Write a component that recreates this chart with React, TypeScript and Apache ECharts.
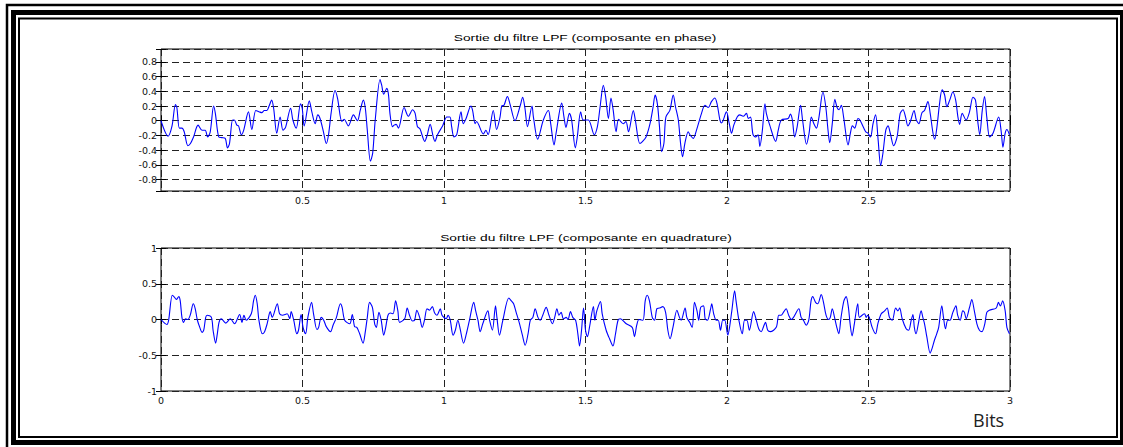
import React, { useEffect, useRef } from 'react';
import * as echarts from 'echarts';

// Sortie du filtre LPF, composante en phase: [bits, amplitude]
const inPhase: [number, number][] = [
  [0, 0], [0.025, -0.21], [0.039, -0.07], [0.051, 0.22], [0.056, 0.18], [0.065, -0.1], [0.074, -0.1], [0.082, -0.15],
  [0.095, -0.34], [0.104, -0.31], [0.115, -0.22], [0.131, -0.06], [0.145, -0.13], [0.156, -0.13], [0.165, -0.22],
  [0.174, -0.15], [0.186, 0.2], [0.192, 0.1], [0.204, -0.22], [0.215, -0.23], [0.227, -0.24], [0.235, -0.37],
  [0.242, -0.31], [0.253, 0.01], [0.259, 0.01], [0.268, -0.06], [0.274, -0.07], [0.284, -0.19], [0.292, -0.13],
  [0.309, 0.12], [0.321, -0.12], [0.335, 0.14], [0.348, 0.12], [0.356, 0.11], [0.365, 0.14], [0.374, 0.14],
  [0.382, 0.2], [0.391, 0.28], [0.398, 0.17], [0.409, -0.17], [0.421, 0.05], [0.431, -0.13], [0.44, -0.09],
  [0.458, 0.17], [0.466, 0.01], [0.478, -0.1], [0.493, 0.23], [0.499, 0.17], [0.506, -0.07], [0.524, 0.27],
  [0.533, 0.12], [0.545, -0.04], [0.554, 0.08], [0.562, 0.03], [0.574, -0.15], [0.584, -0.31], [0.592, -0.19],
  [0.601, 0.1], [0.615, 0.41], [0.624, 0.3], [0.639, -0.01], [0.647, 0.02], [0.662, -0.07], [0.68, 0.08],
  [0.694, 0], [0.704, 0.14], [0.715, 0.28], [0.722, 0.17], [0.729, -0.13], [0.74, -0.55], [0.748, -0.44],
  [0.757, 0.01], [0.774, 0.56], [0.78, 0.48], [0.787, 0.36], [0.798, 0.44], [0.804, 0.35], [0.809, 0.1],
  [0.818, -0.08], [0.824, -0.06], [0.831, -0.05], [0.839, -0.1], [0.859, 0.18], [0.874, 0.06], [0.889, 0.15],
  [0.898, 0.1], [0.906, -0.08], [0.915, -0.11], [0.932, -0.28], [0.941, -0.19], [0.951, -0.05], [0.962, -0.22],
  [0.968, -0.28], [0.977, -0.19], [0.995, -0.07], [1.01, 0.05], [1.021, 0.05], [1.027, -0.08], [1.035, -0.22],
  [1.045, -0.19], [1.06, 0.12], [1.068, -0.04], [1.078, 0.03], [1.095, 0.2], [1.101, 0.14], [1.11, -0.04],
  [1.115, -0.01], [1.139, -0.18], [1.148, -0.13], [1.156, -0.19], [1.174, 0.14], [1.186, -0.12], [1.198, 0.05],
  [1.204, 0.2], [1.212, 0.21], [1.224, 0.33], [1.233, 0.23], [1.251, 0], [1.269, 0.2], [1.278, 0.32], [1.286, 0.17],
  [1.295, -0.08], [1.311, 0.2], [1.316, 0.05], [1.331, -0.25], [1.351, 0.01], [1.369, 0.14], [1.377, -0.04],
  [1.389, -0.33], [1.396, -0.17], [1.416, 0.24], [1.424, 0.05], [1.431, -0.09], [1.443, 0.1], [1.451, 0.01],
  [1.464, -0.37], [1.471, -0.22], [1.483, 0.12], [1.492, 0.01], [1.51, 0.01], [1.531, -0.19], [1.542, -0.08],
  [1.551, 0.17], [1.563, 0.48], [1.571, 0.33], [1.581, 0.03], [1.59, 0.31], [1.598, 0.14], [1.608, -0.15],
  [1.617, 0.02], [1.633, -0.04], [1.643, -0.01], [1.652, -0.15], [1.669, 0.14], [1.676, 0.01], [1.692, -0.31],
  [1.702, -0.28], [1.714, -0.22], [1.728, -0.04], [1.739, 0.19], [1.746, 0.35], [1.754, 0.23], [1.761, -0.06],
  [1.769, -0.42], [1.777, -0.31], [1.784, 0.05], [1.798, 0.14], [1.81, 0.35], [1.818, 0.19], [1.828, 0.01],
  [1.836, -0.31], [1.843, -0.49], [1.851, -0.31], [1.863, -0.15], [1.869, -0.19], [1.881, -0.24], [1.892, -0.13],
  [1.91, 0.1], [1.922, 0.21], [1.934, 0.18], [1.945, 0.26], [1.957, 0.31], [1.965, 0.23], [1.975, 0.01],
  [1.981, -0.03], [1.998, 0.12], [2.008, -0.04], [2.016, -0.17], [2.024, -0.06], [2.036, 0.05], [2.045, 0.08],
  [2.057, 0.06], [2.069, 0.1], [2.075, 0.03], [2.083, 0.05], [2.092, -0.19], [2.102, -0.22], [2.11, -0.19],
  [2.116, -0.35], [2.125, -0.13], [2.134, 0.23], [2.139, 0.1], [2.151, -0.06], [2.172, -0.28], [2.181, -0.13],
  [2.192, 0.01], [2.216, 0.03], [2.224, 0.09], [2.231, 0.01], [2.239, -0.22], [2.248, -0.08], [2.26, 0.21],
  [2.267, 0.01], [2.281, -0.32], [2.29, -0.17], [2.298, 0.05], [2.307, -0.04], [2.316, -0.1], [2.325, 0.05],
  [2.339, 0.39], [2.349, 0.19], [2.357, -0.13], [2.363, -0.3], [2.372, -0.04], [2.381, 0.29], [2.389, 0.18],
  [2.396, 0.15], [2.404, 0.21], [2.412, 0.05], [2.428, -0.33], [2.436, -0.17], [2.443, -0.07], [2.451, -0.1],
  [2.463, 0.03], [2.471, 0], [2.49, -0.15], [2.498, -0.17], [2.507, -0.22], [2.516, -0.04], [2.525, 0.08],
  [2.534, -0.26], [2.543, -0.61], [2.551, -0.44], [2.561, -0.13], [2.569, -0.07], [2.577, -0.17], [2.589, -0.34],
  [2.601, -0.22], [2.612, 0.1], [2.622, 0.15], [2.631, 0.05], [2.639, -0.07], [2.648, -0.01], [2.661, 0.14],
  [2.669, 0.01], [2.678, -0.04], [2.689, 0.11], [2.698, 0.14], [2.71, 0.26], [2.718, 0.1], [2.728, -0.17],
  [2.734, -0.25], [2.742, -0.08], [2.751, 0.23], [2.76, 0.42], [2.769, 0.35], [2.777, 0.19], [2.787, 0.28],
  [2.798, 0.39], [2.808, 0.28], [2.816, 0.05], [2.822, -0.05], [2.831, 0.1], [2.845, 0.01], [2.857, 0.12],
  [2.869, 0.32], [2.878, 0.28], [2.887, -0.04], [2.893, -0.19], [2.902, 0.14], [2.91, 0.33], [2.918, 0.05],
  [2.928, -0.22], [2.94, -0.17], [2.96, 0.05], [2.969, -0.15], [2.975, -0.36], [2.983, -0.17], [2.989, -0.12],
  [2.998, -0.19],
];

// Sortie du filtre LPF, composante en quadrature: [bits, amplitude]
const quadrature: [number, number][] = [
  [0, 0], [0.021, -0.07], [0.027, -0.01], [0.04, 0.34], [0.048, 0.31], [0.054, 0.28], [0.063, 0.32], [0.068, 0.26],
  [0.074, 0.03], [0.08, -0.04], [0.087, 0.01], [0.095, 0], [0.104, 0.07], [0.114, 0.22], [0.121, 0.15], [0.128, 0],
  [0.137, -0.11], [0.145, -0.18], [0.151, -0.15], [0.158, 0.03], [0.163, 0.06], [0.178, 0.03], [0.184, -0.15],
  [0.193, -0.33], [0.199, -0.2], [0.205, -0.04], [0.213, 0.01], [0.229, -0.05], [0.245, 0.01], [0.26, -0.06],
  [0.278, 0.07], [0.286, -0.04], [0.293, 0.06], [0.301, -0.01], [0.319, 0.08], [0.327, 0.26], [0.333, 0.34],
  [0.34, 0.22], [0.346, -0.01], [0.358, -0.2], [0.366, -0.17], [0.375, -0.06], [0.386, 0.11], [0.393, 0.03],
  [0.411, 0.22], [0.419, 0.08], [0.429, 0.06], [0.446, 0.08], [0.455, 0.01], [0.46, 0.11], [0.469, -0.01],
  [0.48, -0.2], [0.486, -0.15], [0.495, 0.07], [0.502, -0.11], [0.511, -0.2], [0.519, 0.03], [0.532, 0.24],
  [0.539, 0.08], [0.551, -0.14], [0.557, -0.11], [0.566, 0.03], [0.575, -0.01], [0.584, -0.1], [0.599, -0.17],
  [0.608, -0.08], [0.62, 0.03], [0.634, 0.22], [0.64, 0.17], [0.649, -0.01], [0.667, -0.06], [0.676, 0.07],
  [0.684, -0.1], [0.692, -0.11], [0.702, -0.2], [0.714, -0.33], [0.722, -0.17], [0.729, 0.03], [0.737, 0.24],
  [0.747, 0.17], [0.755, -0.06], [0.761, -0.11], [0.77, 0.1], [0.778, -0.01], [0.787, -0.22], [0.794, -0.11],
  [0.802, 0.06], [0.81, 0.09], [0.82, 0.08], [0.829, 0.26], [0.837, 0.12], [0.843, -0.04], [0.861, 0.01],
  [0.87, 0.16], [0.878, 0.06], [0.888, -0.02], [0.896, -0.01], [0.904, 0.13], [0.914, 0.03], [0.923, -0.11],
  [0.931, -0.01], [0.94, 0.15], [0.949, 0.13], [0.959, 0.18], [0.967, 0.09], [0.975, 0.06], [0.987, 0.15],
  [0.993, 0.06], [1.008, 0.01], [1.014, 0.06], [1.022, -0.01], [1.032, -0.22], [1.04, -0.15], [1.049, -0.01],
  [1.057, -0.13], [1.069, -0.33], [1.079, -0.2], [1.09, -0.01], [1.105, 0.24], [1.112, 0.12], [1.12, -0.01],
  [1.128, -0.17], [1.137, -0.06], [1.155, 0.12], [1.161, -0.01], [1.171, -0.15], [1.182, 0.19], [1.187, 0.03],
  [1.196, -0.22], [1.208, -0.01], [1.229, 0.3], [1.238, 0.26], [1.246, 0.22], [1.255, 0.1], [1.267, -0.06],
  [1.277, -0.22], [1.287, -0.36], [1.297, -0.2], [1.305, -0.01], [1.314, 0.03], [1.322, 0.15], [1.332, 0.03],
  [1.34, -0.01], [1.349, 0.06], [1.361, 0.17], [1.371, 0.06], [1.383, -0.06], [1.391, 0.03], [1.399, 0.15],
  [1.406, 0.06], [1.414, 0.1], [1.422, 0.01], [1.432, 0.03], [1.438, 0], [1.447, 0.11], [1.455, 0.03],
  [1.465, -0.01], [1.473, -0.2], [1.479, -0.37], [1.486, -0.15], [1.493, 0.16], [1.5, -0.15], [1.507, -0.24],
  [1.514, -0.11], [1.528, 0.18], [1.533, -0.01], [1.54, 0.12], [1.553, 0.25], [1.559, 0.08], [1.573, -0.15],
  [1.585, -0.27], [1.597, -0.37], [1.606, -0.2], [1.615, -0.01], [1.623, 0.01], [1.644, -0.06], [1.665, -0.11],
  [1.673, -0.24], [1.681, -0.08], [1.689, 0], [1.703, -0.01], [1.711, 0.26], [1.718, 0.34], [1.726, 0.26],
  [1.736, 0.03], [1.744, -0.01], [1.752, 0.15], [1.761, 0.16], [1.773, 0.18], [1.783, 0.1], [1.791, -0.15],
  [1.799, -0.27], [1.809, -0.11], [1.823, 0.13], [1.832, 0.03], [1.838, -0.01], [1.852, 0.16], [1.858, 0.03],
  [1.868, -0.04], [1.877, -0.11], [1.885, 0.24], [1.894, 0.12], [1.9, -0.01], [1.907, 0.17], [1.917, 0.19],
  [1.923, 0.01], [1.931, -0.01], [1.942, 0.15], [1.946, 0.22], [1.953, 0.08], [1.962, -0.01], [1.969, -0.01],
  [1.977, -0.15], [1.985, -0.01], [1.992, -0.01], [2.003, -0.22], [2.009, -0.11], [2.017, 0.12], [2.027, 0.4],
  [2.032, 0.26], [2.042, -0.01], [2.054, -0.2], [2.062, -0.01], [2.07, -0.01], [2.079, -0.15], [2.094, 0.11],
  [2.101, 0.03], [2.112, -0.13], [2.121, -0.17], [2.129, -0.1], [2.136, -0.04], [2.144, -0.15], [2.153, -0.17],
  [2.174, -0.11], [2.183, 0.06], [2.191, 0.06], [2.201, 0.11], [2.209, 0.15], [2.218, 0.06], [2.227, 0],
  [2.235, 0.03], [2.254, 0.15], [2.262, 0.03], [2.27, -0.01], [2.28, -0.08], [2.289, -0.01], [2.297, 0.26],
  [2.303, 0.32], [2.313, 0.24], [2.321, 0.22], [2.333, 0.35], [2.341, 0.24], [2.35, 0.06], [2.359, 0],
  [2.365, 0.03], [2.372, 0.15], [2.38, 0.03], [2.388, -0.11], [2.395, -0.2], [2.403, 0.03], [2.413, 0.26],
  [2.421, 0.32], [2.429, 0.17], [2.435, -0.06], [2.442, -0.23], [2.45, -0.06], [2.462, 0.22], [2.468, 0.03],
  [2.486, 0.08], [2.492, 0.03], [2.497, 0.06], [2.503, 0.03], [2.513, -0.11], [2.525, -0.2], [2.533, -0.06],
  [2.545, 0.08], [2.557, 0.12], [2.566, 0.16], [2.574, 0.03], [2.584, -0.01], [2.596, 0.16], [2.604, 0.12],
  [2.61, 0.16], [2.619, 0.01], [2.633, -0.13], [2.642, -0.15], [2.651, -0.01], [2.657, 0.07], [2.662, -0.11],
  [2.668, -0.2], [2.676, -0.06], [2.686, 0.12], [2.692, 0.03], [2.698, -0.06], [2.706, -0.24], [2.718, -0.47],
  [2.725, -0.4], [2.733, -0.29], [2.741, -0.2], [2.748, -0.11], [2.759, 0.19], [2.765, 0.03], [2.772, -0.13],
  [2.78, -0.01], [2.788, -0.01], [2.798, 0.1], [2.809, 0.19], [2.815, 0.06], [2.824, -0.01], [2.833, 0.12],
  [2.839, 0.1], [2.845, 0.01], [2.857, 0.17], [2.865, 0.28], [2.874, 0.12], [2.883, -0.06], [2.892, -0.15],
  [2.901, -0.17], [2.911, -0.06], [2.918, 0.1], [2.927, 0.13], [2.951, 0.16], [2.959, 0.24], [2.966, 0.19],
  [2.974, 0.26], [2.983, 0.12], [2.989, -0.11], [2.998, -0.2],
];

const titles = ['Sortie du filtre LPF (composante en phase)', 'Sortie du filtre LPF (composante en quadrature)'];
const xAxisName = 'Bits';

export default function App() {
  const ref = useRef<HTMLDivElement>(null);

  useEffect(() => {
    if (!ref.current) return;
    const chart = echarts.init(ref.current, null, { renderer: 'svg' });
    const fmt = (v: number) => String(parseFloat(v.toFixed(2)));
    const labelStyle = { fontSize: 9.5, fontFamily: 'DejaVu Sans', color: '#111', margin: 4 };
    const tick = { show: true, inside: true, length: 5, lineStyle: { color: '#000', width: 1 } };
    const dash = { show: true, lineStyle: { color: '#222', width: 1, type: [7, 4] as number[] } };
    const noLine = { show: false };

    const xBase = { type: 'value' as const, min: 0, max: 3, interval: 0.5 };
    const yTop = { type: 'value' as const, min: -0.955, max: 0.975, splitNumber: 10 };
    const yBottom = { type: 'value' as const, min: -1, max: 1, interval: 0.5 };
    const traceStyle = { color: '#0000ff', width: 1.1 };

    const option: any = {
      animation: false,
      backgroundColor: '#fff',
      grid: [
        { left: 161, top: 49, width: 849, height: 142, show: true, borderColor: '#000', borderWidth: 1, backgroundColor: '#fff' },
        { left: 161, top: 248, width: 849, height: 143, show: true, borderColor: '#000', borderWidth: 1, backgroundColor: '#fff' },
      ],
      xAxis: [
        {
          ...xBase, gridIndex: 0, position: 'bottom', axisLine: noLine, axisTick: tick, splitLine: dash,
          axisLabel: { ...labelStyle, formatter: (v: number) => (v <= 0 || v >= 3 ? '' : fmt(v)) },
        },
        {
          ...xBase, gridIndex: 1, position: 'bottom', axisLine: noLine, axisTick: tick, splitLine: dash,
          axisLabel: { ...labelStyle, formatter: (v: number) => fmt(v) },
        },
        { ...xBase, gridIndex: 0, position: 'top', axisLine: noLine, axisTick: tick, splitLine: noLine, axisLabel: noLine },
        { ...xBase, gridIndex: 1, position: 'top', axisLine: noLine, axisTick: tick, splitLine: noLine, axisLabel: noLine },
      ],
      yAxis: [
        {
          ...yTop, gridIndex: 0, position: 'left', axisLine: noLine, axisTick: tick, splitLine: dash,
          axisLabel: { ...labelStyle, formatter: (v: number) => (Math.abs(v) > 0.85 ? '' : fmt(v)) },
        },
        {
          ...yBottom, gridIndex: 1, position: 'left', axisLine: noLine, axisTick: tick, splitLine: dash,
          axisLabel: { ...labelStyle, formatter: (v: number) => fmt(v) },
        },
        { ...yTop, gridIndex: 0, position: 'right', axisLine: noLine, axisTick: tick, splitLine: noLine, axisLabel: noLine },
        { ...yBottom, gridIndex: 1, position: 'right', axisLine: noLine, axisTick: tick, splitLine: noLine, axisLabel: noLine },
      ],
      series: [
        {
          type: 'line', name: titles[0], xAxisIndex: 0, yAxisIndex: 0, data: inPhase, smooth: 0.3,
          showSymbol: false, symbol: 'none', lineStyle: traceStyle, clip: true,
        },
        {
          type: 'line', name: titles[1], xAxisIndex: 1, yAxisIndex: 1, data: quadrature, smooth: 0.3,
          showSymbol: false, symbol: 'none', lineStyle: traceStyle, clip: true,
        },
      ],
      graphic: [
        { type: 'rect', silent: true, shape: { x: 7, y: 5, width: 1130, height: 450 }, style: { fill: 'none', stroke: '#000', lineWidth: 2.5 } },
        { type: 'rect', silent: true, shape: { x: 13.5, y: 12.5, width: 1109, height: 430 }, style: { fill: 'none', stroke: '#000', lineWidth: 5 } },
        { type: 'rect', silent: true, shape: { x: 19, y: 18.5, width: 1098, height: 418.5 }, style: { fill: 'none', stroke: '#000', lineWidth: 2 } },
        {
          type: 'text', x: 585, y: 38, scaleX: 1.45, silent: true,
          style: { text: titles[0], x: 0, y: 0, textAlign: 'center', textVerticalAlign: 'middle', fontSize: 9.5, fontFamily: 'Liberation Sans', fill: '#000' },
        },
        {
          type: 'text', x: 586, y: 238, scaleX: 1.45, silent: true,
          style: { text: titles[1], x: 0, y: 0, textAlign: 'center', textVerticalAlign: 'middle', fontSize: 9.5, fontFamily: 'Liberation Sans', fill: '#000' },
        },
        {
          type: 'text', x: 973, y: 420, silent: true,
          style: { text: xAxisName, x: 0, y: 0, textAlign: 'left', textVerticalAlign: 'middle', fontSize: 18, fontFamily: 'Open Sans', fill: '#222' },
        },
      ],
    };

    chart.setOption(option);
    return () => chart.dispose();
  }, []);

  return (
    <div
      ref={ref}
      style={{ position: 'absolute', left: 0, top: 0, width: 1123, height: 447, background: '#fff' }}
    />
  );
}
